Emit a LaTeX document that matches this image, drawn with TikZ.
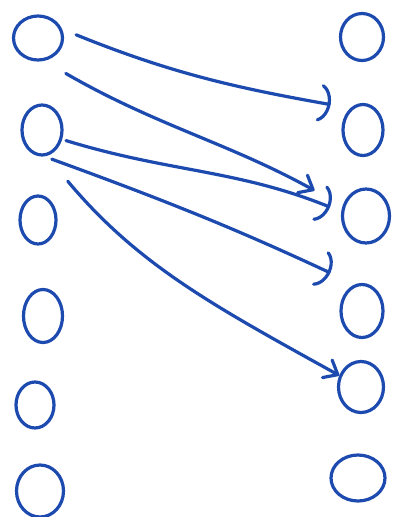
\documentclass[tikz,border=0pt]{standalone}
\usepackage{tikz}
\usetikzlibrary{shapes.geometric,arrows.meta}
\definecolor{inkblue}{HTML}{1C4AAF}
\tikzset{
  blob/.style={draw=inkblue,line width=3.2pt,ellipse,inner sep=0pt},
  link/.style={draw=inkblue,line width=3.2pt,line cap=round},
  arcend/.style={-{Arc Barb[round,arc=140,length=15pt,width=40pt]}},
  barbend/.style={-{Straight Barb[round,length=12pt,width=20pt]}},
}

\begin{document}
\begin{tikzpicture}[x=1pt,y=1pt]
\useasboundingbox (0,0) rectangle (392,-517);
\node[blob,minimum width=49pt,minimum height=44pt] (l1) at (38,-38) {};
\node[blob,minimum width=40pt,minimum height=50pt] (l2) at (42,-130) {};
\node[blob,minimum width=36pt,minimum height=48pt] (l3) at (38,-220) {};
\node[blob,minimum width=39pt,minimum height=53pt] (l4) at (43,-316) {};
\node[blob,minimum width=38pt,minimum height=46pt] (l5) at (35,-405) {};
\node[blob,minimum width=47pt,minimum height=52pt] (l6) at (40,-491) {};
\node[blob,minimum width=43pt,minimum height=47pt] (r1) at (362,-37) {};
\node[blob,minimum width=40pt,minimum height=51pt] (r2) at (363,-130) {};
\node[blob,minimum width=47pt,minimum height=54pt] (r3) at (366,-216) {};
\node[blob,minimum width=42pt,minimum height=53pt] (r4) at (362,-311) {};
\node[blob,minimum width=45pt,minimum height=51pt] (r5) at (361,-387) {};
\node[blob,minimum width=54pt,minimum height=46pt] (r6) at (358,-478) {};
\draw[link,arcend,shorten <=15pt,shorten >=20pt] (l1.20) to[out=-22,in=170] (r2.120);
\draw[link,barbend,shorten <=25pt,shorten >=32pt] (l1.-75) to[out=-30,in=151] (r3.157);
\draw[link,arcend,shorten <=4pt,shorten >=12pt] (l2.-25) to[out=-17,in=158] (r3.170);
\draw[link,arcend,shorten <=8pt,shorten >=27pt] (l2.-85) to[out=-20,in=155] (r4.105);
\draw[link,barbend,shorten <=33pt] (l2.-80) to[out=-50,in=151] (r5.152);
\end{tikzpicture}
\end{document}
